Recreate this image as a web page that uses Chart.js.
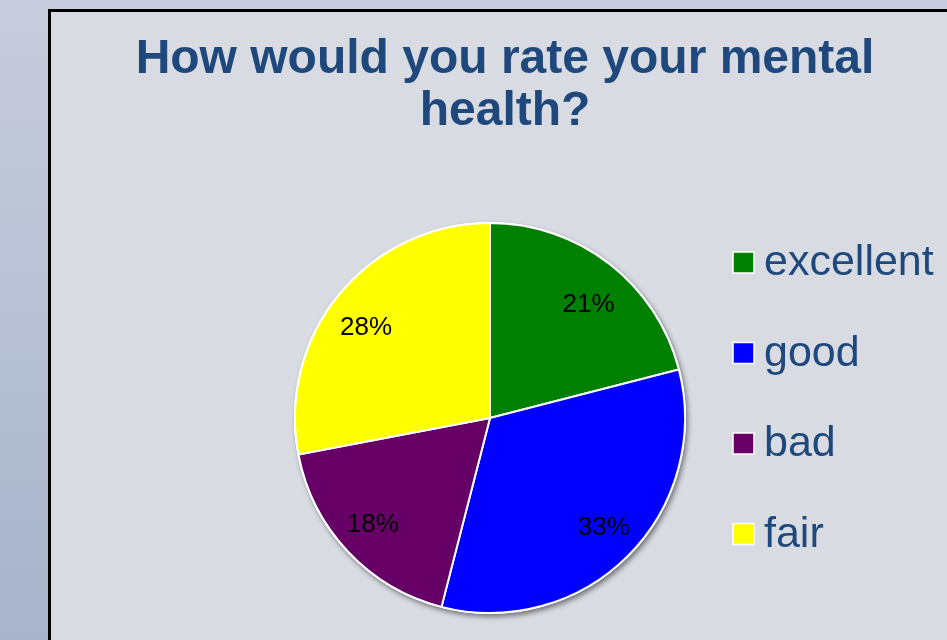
<!DOCTYPE html>
<html>
<head>
<meta charset="utf-8">
<title>Mental health rating</title>
<script src="https://cdn.jsdelivr.net/npm/chart.js@4.4.1/dist/chart.umd.min.js"></script>
<style>
  html, body {
    margin: 0;
    padding: 0;
    width: 947px;
    height: 640px;
    overflow: hidden;
  }
  body {
    position: relative;
    background: linear-gradient(#c8cddd, #a7b4cb);
  }
  #frame {
    position: absolute;
    left: 48px;
    top: 9px;
    right: -10px;
    bottom: -10px;
    background: #d8dbe2;
    border-left: 3px solid #000;
    border-top: 3px solid #000;
  }
  #pieChart {
    position: absolute;
    left: 0;
    top: 0;
  }
</style>
</head>
<body>
<div id="frame"></div>
<canvas id="pieChart" width="947" height="640" style="width:947px;height:640px"></canvas>
<script>
var titleLines = ["How would you rate your mental", "health?"];
var ratingLabels = ["excellent", "good", "bad", "fair"];
var ratingShares = [21, 33, 18, 28];
var sliceColors = ["#008000", "#0000ff", "#660066", "#ffff00"];

var textBlue = "#1f497d";
var fontFamily = "'Liberation Sans', Arial, sans-serif";

// soft shadow under the whole disc, drawn before the slices
var pieShadow = {
  id: "pieShadow",
  beforeDatasetsDraw(chart) {
    var arc = chart.getDatasetMeta(0).data[0];
    if (!arc) return;
    var ctx = chart.ctx;
    ctx.save();
    ctx.shadowColor = "rgba(0, 0, 0, 0.45)";
    ctx.shadowBlur = 5;
    ctx.shadowOffsetX = 2;
    ctx.shadowOffsetY = 3;
    ctx.fillStyle = "#ffffff";
    ctx.beginPath();
    ctx.arc(arc.x, arc.y, arc.outerRadius + 1, 0, Math.PI * 2);
    ctx.fill();
    ctx.restore();
  },
};

// percentage text inside each slice, set on a slightly flattened ring
var sliceLabels = {
  id: "sliceLabels",
  afterDatasetsDraw(chart, args, opts) {
    var ctx = chart.ctx;
    var values = chart.data.datasets[0].data;
    var size = opts.fontSize;
    ctx.save();
    ctx.font = size + "px " + fontFamily;
    ctx.fillStyle = "#000000";
    ctx.textAlign = "center";
    ctx.textBaseline = "alphabetic";
    chart.getDatasetMeta(0).data.forEach(function (arc, i) {
      var p = arc.getProps(["x", "y", "startAngle", "endAngle", "outerRadius"], true);
      var mid = (p.startAngle + p.endAngle) / 2;
      var cx = p.x + Math.cos(mid) * p.outerRadius * opts.rx;
      var cy = p.y + Math.sin(mid) * p.outerRadius * opts.ry;
      ctx.fillText(values[i] + "%", cx, cy + size * 0.45);
    });
    ctx.restore();
  },
};

// legend column to the right of the pie
var sideLegend = {
  id: "sideLegend",
  afterDraw(chart, args, opts) {
    var ctx = chart.ctx;
    var colors = chart.data.datasets[0].backgroundColor;
    ctx.save();
    ctx.font = opts.fontSize + "px " + fontFamily;
    ctx.textAlign = "left";
    ctx.textBaseline = "alphabetic";
    chart.data.labels.forEach(function (label, i) {
      var base = opts.top + i * opts.rowGap;
      var boxTop = base - 23;
      ctx.fillStyle = colors[i];
      ctx.fillRect(opts.left, boxTop, 21, 21);
      ctx.strokeStyle = "#ffffff";
      ctx.lineWidth = 1.5;
      ctx.strokeRect(opts.left, boxTop, 21, 21);
      ctx.fillStyle = opts.color;
      ctx.fillText(label, opts.left + 31, base);
    });
    ctx.restore();
  },
};

// the heading is centred on the whole frame, a bit right of the pie
var titleShift = {
  id: "titleShift",
  afterLayout(chart, args, opts) {
    if (chart.titleBlock) chart.titleBlock.left += opts.by * 2;
  },
};

const ctx = document.getElementById("pieChart");
const chart = new Chart(ctx, {
  type: "pie",
  data: {
    labels: ratingLabels,
    datasets: [
      {
        data: ratingShares,
        backgroundColor: sliceColors,
        borderColor: "#ffffff",
        borderWidth: 2,
        radius: 195,
      },
    ],
  },
  options: {
    responsive: false,
    animation: false,
    events: [],
    layout: {
      padding: { left: 100, right: 67, top: 0, bottom: 20 },
    },
    plugins: {
      legend: { display: false },
      tooltip: { enabled: false },
      title: {
        display: true,
        text: titleLines,
        color: textBlue,
        font: { family: fontFamily, size: 48, weight: "bold", lineHeight: 1.1 },
        padding: { top: 33, bottom: 77.4 },
      },
      sliceLabels: { fontSize: 26, rx: 0.825, ry: 0.765 },
      sideLegend: {
        left: 733,
        top: 275,
        rowGap: 90.5,
        fontSize: 43,
        color: textBlue,
      },
      titleShift: { by: 15 },
    },
  },
  plugins: [pieShadow, sliceLabels, sideLegend, titleShift],
});
</script>
</body>
</html>
